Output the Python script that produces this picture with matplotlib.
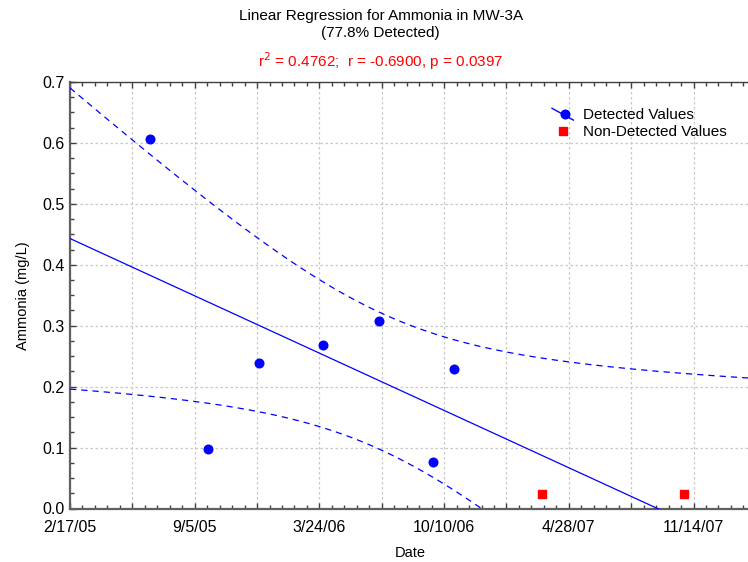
import numpy as np
import matplotlib
matplotlib.use("Agg")
import matplotlib.pyplot as plt
import matplotlib.dates as mdates
from matplotlib.lines import Line2D
from matplotlib.legend_handler import HandlerBase
from matplotlib.ticker import MultipleLocator, FixedLocator, FuncFormatter
import datetime as dt

# ---------------- data ----------------
detected_dates = ["2005-06-25", "2005-09-27", "2005-12-17", "2006-03-30",
                  "2006-06-28", "2006-09-22", "2006-10-26"]
detected_values = [0.607, 0.098, 0.239, 0.269, 0.308, 0.076, 0.229]
nondetect_dates = ["2007-03-16", "2007-10-30"]
nondetect_values = [0.024, 0.024]

axis_start = "2005-02-17"
axis_end = "2008-02-13"
tick_step_days = 100          # grid every 100 days, label every 200 days

title_lines = ["Linear Regression for Ammonia in MW-3A", "(77.8% Detected)"]
stats_text = r"r$^2$ = 0.4762;  r = -0.6900, p = 0.0397"
t_975_df7 = 2.3646            # Student t quantile (95 %, 7 d.f.)

plt.rcParams['font.family'] = ['Liberation Sans', 'DejaVu Sans']

# ---------------- derived ----------------
start = dt.datetime.strptime(axis_start, "%Y-%m-%d")
end = dt.datetime.strptime(axis_end, "%Y-%m-%d")
d_det = [dt.datetime.strptime(s, "%Y-%m-%d") for s in detected_dates]
d_nd = [dt.datetime.strptime(s, "%Y-%m-%d") for s in nondetect_dates]

all_dates = d_det + d_nd
x_all = np.array([(d - start).days for d in all_dates], float)
y_all = np.array(detected_values + nondetect_values, float)
n = len(x_all)
xm, ym = x_all.mean(), y_all.mean()
sxx = ((x_all - xm) ** 2).sum()
sxy = ((x_all - xm) * (y_all - ym)).sum()
slope = sxy / sxx
icpt = ym - slope * xm
resid = y_all - (icpt + slope * x_all)
s = np.sqrt((resid ** 2).sum() / (n - 2))

span = (end - start).days
xg = np.linspace(0, span, 600)
yfit = icpt + slope * xg
hw = t_975_df7 * s * np.sqrt(1.0 / n + (xg - xm) ** 2 / sxx)
xg_dates = [start + dt.timedelta(days=float(v)) for v in xg]

# ---------------- figure ----------------
fig = plt.figure(figsize=(7.48, 5.62), dpi=100)
ax = fig.add_axes([70 / 748, 1 - 508.5 / 562, 1 - 70 / 748 + 0.003, (508.5 - 82) / 562])

blue = '#0000ff'
ax.plot(xg_dates, yfit, color=blue, lw=0.9, zorder=3)
ax.plot(xg_dates, yfit + hw, color=blue, lw=0.9, dashes=(5, 4), zorder=3)
ax.plot(xg_dates, yfit - hw, color=blue, lw=0.9, dashes=(5, 4), zorder=3)

ax.plot(d_det, detected_values, 'o', color=blue, ms=6.2, mec=blue, zorder=4)
ax.plot(d_nd, nondetect_values, 's', color='#ff0000', ms=6.0, mec='#ff0000', zorder=4)

ax.set_xlim(start, end)
ax.set_ylim(0, 0.7)

major = [mdates.date2num(start + dt.timedelta(days=k * tick_step_days))
         for k in range(0, span // tick_step_days + 1)]
minor = [mdates.date2num(start + dt.timedelta(days=k * 20))
         for k in range(0, span // 20 + 1)]
ax.xaxis.set_major_locator(FixedLocator(major))
ax.xaxis.set_minor_locator(FixedLocator(minor))


def fmt(v, pos):
    d = mdates.num2date(v)
    k = int(round((d.replace(tzinfo=None) - start).days / tick_step_days))
    if k % 2:
        return ""
    return f"{d.month}/{d.day}/{d.year % 100:02d}"


ax.xaxis.set_major_formatter(FuncFormatter(fmt))
ax.yaxis.set_major_locator(MultipleLocator(0.1))
ax.yaxis.set_minor_locator(MultipleLocator(0.025))
ax.yaxis.set_major_formatter(FuncFormatter(lambda v, p: f"{v:.1f}"))

ax.grid(True, which='major', color='#c8c8c8', lw=0.9, dashes=(2, 2))
ax.tick_params(which='both', direction='in', top=True, right=False,
               colors='#404040', labelcolor='black', labelsize=11.5)
ax.tick_params(which='major', length=4, width=1)
ax.tick_params(which='minor', length=3, width=1)
ax.tick_params(axis='x', which='major', pad=8)
ax.tick_params(axis='y', which='major', pad=4)
for sp in ['left', 'bottom']:
    ax.spines[sp].set_color('#606060')
    ax.spines[sp].set_linewidth(1.6)
ax.spines['top'].set_color('#404040')
ax.spines['top'].set_linewidth(1.0)
ax.spines['right'].set_visible(False)

ax.set_xlabel("Date", fontsize=10.5, labelpad=8)
ax.set_ylabel("Ammonia (mg/L)", fontsize=10.5, labelpad=9)

fig.text(0.509, 1 - 16 / 562, title_lines[0], ha='center', va='center', fontsize=11)
fig.text(0.509, 1 - 33 / 562, title_lines[1], ha='center', va='center', fontsize=11)
fig.text(0.509, 1 - 61 / 562, stats_text, ha='center', va='center', fontsize=11,
         color='#ff0000')


class DiagHandler(HandlerBase):
    def create_artists(self, legend, orig_handle, xdescent, ydescent, width,
                       height, fontsize, trans):
        x0, x1 = -xdescent, -xdescent + width
        line = Line2D([x0, x1], [height * 1.0 - ydescent, -0.1 * height - ydescent],
                      color=blue, lw=1.0, transform=trans)
        mk = Line2D([x0 + 0.6 * width], [0.45 * height - ydescent], marker='o',
                    color=blue, ms=6.2, ls='none', transform=trans)
        return [line, mk]


h_det = Line2D([], [], color=blue, marker='o', ls='none')
h_nd = Line2D([], [], color='#ff0000', marker='s', ls='none', ms=6.0)
leg = ax.legend([h_det, h_nd], ["Detected Values", "Non-Detected Values"],
                handler_map={h_det: DiagHandler()},
                loc='upper left', bbox_to_anchor=(552 / 748, 1 - 108 / 562),
                bbox_transform=fig.transFigure, frameon=False, fontsize=11,
                borderpad=0, borderaxespad=0, handlelength=1.4, handletextpad=0.6,
                labelspacing=0.2)

fig.savefig("out.png", dpi=100)
